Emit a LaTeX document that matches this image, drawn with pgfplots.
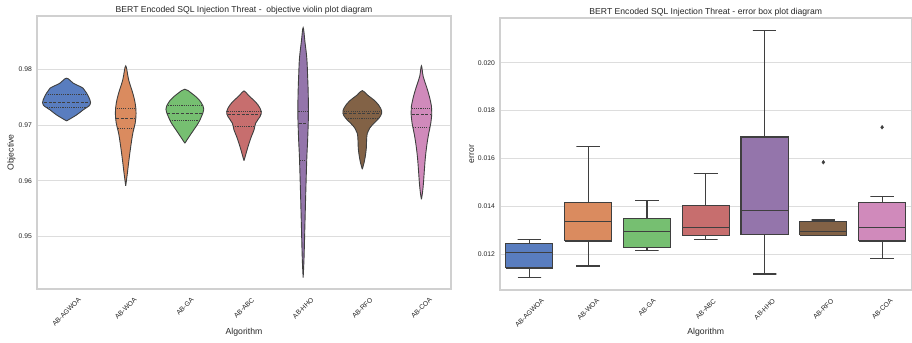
\documentclass[border=0pt]{standalone}
\usepackage{fontspec}
\setmainfont{Liberation Sans}
\usepackage{graphicx}
\usepackage{pgfplots}
\pgfplotsset{compat=1.18}
\definecolor{cA}{RGB}{89,125,191}
\definecolor{cB}{RGB}{218,139,95}
\definecolor{cC}{RGB}{118,191,113}
\definecolor{cD}{RGB}{199,110,110}
\definecolor{cE}{RGB}{148,117,171}
\definecolor{cF}{RGB}{130,98,70}
\definecolor{cG}{RGB}{208,138,187}
\definecolor{edge}{RGB}{63,63,63}
\definecolor{gridc}{RGB}{221,221,221}
\definecolor{framec}{RGB}{208,208,208}
\definecolor{txt}{RGB}{38,38,38}
\pgfplotsset{
 common/.style={
  scale only axis,
  anchor=south west,
  axis line style={framec, line width=1.1bp},
  ymajorgrids, major grid style={gridc, line width=0.9bp},
  major tick length=0pt,
  tick label style={font=\fontsize{6.8}{7}\selectfont, text=txt},
  /pgf/number format/assume math mode=true,
  scaled y ticks=false,
  xmin=-0.5, xmax=6.5, xtick={0,...,6},
  xticklabels={\rotatebox{45}{AB-AGWOA},\rotatebox{45}{AB-WOA},\rotatebox{45}{AB-GA},\rotatebox{45}{AB-ABC},\rotatebox{45}{AB-HHO},\rotatebox{45}{AB-RFO},\rotatebox{45}{AB-COA}},
  xticklabel style={anchor=north, inner sep=0pt, yshift=-8bp},
  yticklabel style={anchor=east, inner sep=0pt, xshift=-5bp},
  label style={font=\fontsize{8.7}{10}\selectfont, text=txt},
  every axis title shift=0pt,
  title style={font=\fontsize{8.65}{10}\selectfont, text=txt, at={(0.5,1)}, anchor=base, yshift=3.4bp},
 },
 vio/.style={smooth, tension=0.6, draw=edge, line width=0.9bp, fill=#1},
 med/.style={draw=edge, line width=0.8bp, dash pattern=on 3bp off 1.6bp},
 qrt/.style={draw=edge, line width=0.8bp, dash pattern=on 1.1bp off 1.1bp},
 bx/.style={draw=edge, line width=1.1bp, fill=#1, mark=none},
 wh/.style={draw=edge, line width=1.1bp, mark=none},
}
\begin{document}
\begin{tikzpicture}
\useasboundingbox (0,0) rectangle (912bp,343bp);
% ---------------- violin plot ----------------
\begin{axis}[common, at={(37bp,54bp)}, width=414bp, height=273bp,
  ymin=0.9406, ymax=0.9896, ytick={0.95,0.96,0.97,0.98},
  yticklabel style={/pgf/number format/.cd, fixed, fixed zerofill, precision=2},
  title={BERT Encoded SQL Injection Threat - \ objective violin plot diagram},
  xlabel={Algorithm}, ylabel={Objective},
  xlabel style={at={(axis description cs:0.5,-0.1575)}, anchor=center},
  ylabel style={at={(axis description cs:-0.062,0.5)}, anchor=center},
]
\addplot[vio=cA] coordinates {(0,0.97077) (0.17,0.97185) (0.28,0.97275) (0.395,0.97364) (0.395,0.97454) (0.34,0.97574) (0.28,0.97664) (0.113,0.97754) (0,0.97844) (-0.113,0.97754) (-0.28,0.97664) (-0.34,0.97574) (-0.395,0.97454) (-0.395,0.97364) (-0.28,0.97275) (-0.17,0.97185) (0,0.97077)};
\addplot[vio=cB] coordinates {(1,0.9591) (1.028,0.96138) (1.055,0.96377) (1.085,0.96616) (1.12,0.96856) (1.16,0.97036) (1.175,0.97215) (1.16,0.97395) (1.12,0.97574) (1.05,0.97813) (1,0.98065) (0.95,0.97813) (0.88,0.97574) (0.84,0.97395) (0.825,0.97215) (0.84,0.97036) (0.88,0.96856) (0.915,0.96616) (0.945,0.96377) (0.972,0.96138) (1,0.9591)};
\addplot[vio=cC] coordinates {(2,0.96677) (2.073,0.96795) (2.15,0.96916) (2.226,0.97036) (2.28,0.97154) (2.32,0.97287) (2.282,0.97395) (2.214,0.97485) (2.113,0.97574) (2,0.97646) (1.887,0.97574) (1.786,0.97485) (1.718,0.97395) (1.68,0.97287) (1.72,0.97154) (1.774,0.97036) (1.85,0.96916) (1.927,0.96795) (2,0.96677)};
\addplot[vio=cD] coordinates {(3,0.96364) (3.028,0.96467) (3.068,0.96616) (3.124,0.96795) (3.17,0.96916) (3.197,0.97036) (3.27,0.97154) (3.293,0.97244) (3.237,0.97364) (3.158,0.97454) (3.068,0.97544) (3,0.97616) (2.932,0.97544) (2.842,0.97454) (2.763,0.97364) (2.707,0.97244) (2.73,0.97154) (2.803,0.97036) (2.83,0.96916) (2.876,0.96795) (2.932,0.96616) (2.972,0.96467) (3,0.96364)};
\addplot[vio=cE] coordinates {(4,0.94264) (4.015,0.94612) (4.03,0.9521) (4.045,0.95808) (4.062,0.96408) (4.075,0.96706) (4.085,0.97005) (4.09,0.97244) (4.085,0.97603) (4.075,0.97903) (4.062,0.98203) (4.03,0.98501) (4,0.98752) (3.97,0.98501) (3.938,0.98203) (3.925,0.97903) (3.915,0.97603) (3.91,0.97244) (3.915,0.97005) (3.925,0.96706) (3.938,0.96408) (3.955,0.95808) (3.97,0.9521) (3.985,0.94612) (4,0.94264)};
\addplot[vio=cF] coordinates {(5,0.9621) (5.028,0.96318) (5.05,0.96436) (5.068,0.96587) (5.073,0.96736) (5.085,0.96856) (5.124,0.96946) (5.197,0.97036) (5.282,0.97126) (5.327,0.97215) (5.31,0.97305) (5.226,0.97424) (5.085,0.97544) (5,0.97621) (4.915,0.97544) (4.774,0.97424) (4.69,0.97305) (4.673,0.97215) (4.718,0.97126) (4.803,0.97036) (4.876,0.96946) (4.915,0.96856) (4.927,0.96736) (4.932,0.96587) (4.95,0.96436) (4.972,0.96318) (5,0.9621)};
\addplot[vio=cG] coordinates {(6,0.95671) (6.017,0.95779) (6.034,0.95959) (6.05,0.96197) (6.068,0.96436) (6.096,0.96677) (6.124,0.96856) (6.158,0.97036) (6.175,0.97215) (6.17,0.97334) (6.135,0.97513) (6.085,0.97693) (6.03,0.97873) (6,0.98065) (5.97,0.97873) (5.915,0.97693) (5.865,0.97513) (5.83,0.97334) (5.825,0.97215) (5.842,0.97036) (5.876,0.96856) (5.904,0.96677) (5.932,0.96436) (5.95,0.96197) (5.966,0.95959) (5.983,0.95779) (6,0.95671)};
% quartile lines
\addplot[qrt] coordinates {(-0.32,0.97557) (0.32,0.97557)};
\addplot[med] coordinates {(-0.38,0.97406) (0.38,0.97406)};
\addplot[qrt] coordinates {(-0.33,0.97322) (0.33,0.97322)};
\addplot[qrt] coordinates {(0.845,0.97305) (1.155,0.97305)};
\addplot[med] coordinates {(0.835,0.97131) (1.165,0.97131)};
\addplot[qrt] coordinates {(0.865,0.96946) (1.135,0.96946)};
\addplot[qrt] coordinates {(1.72,0.97364) (2.28,0.97364)};
\addplot[med] coordinates {(1.70,0.97215) (2.30,0.97215)};
\addplot[qrt] coordinates {(1.75,0.97095) (2.25,0.97095)};
\addplot[qrt] coordinates {(2.72,0.97251) (3.28,0.97251)};
\addplot[med] coordinates {(2.725,0.97185) (3.275,0.97185)};
\addplot[qrt] coordinates {(2.815,0.96982) (3.185,0.96982)};
\addplot[qrt] coordinates {(3.92,0.97244) (4.08,0.97244)};
\addplot[med] coordinates {(3.925,0.97036) (4.075,0.97036)};
\addplot[qrt] coordinates {(3.945,0.96364) (4.055,0.96364)};
\addplot[qrt] coordinates {(4.69,0.97244) (5.31,0.97244)};
\addplot[med] coordinates {(4.69,0.97215) (5.31,0.97215)};
\addplot[qrt] coordinates {(4.725,0.97126) (5.275,0.97126)};
\addplot[qrt] coordinates {(5.835,0.97305) (6.165,0.97305)};
\addplot[med] coordinates {(5.835,0.97185) (6.165,0.97185)};
\addplot[qrt] coordinates {(5.86,0.96957) (6.14,0.96957)};
\end{axis}
% ---------------- box plot (values in units of 0.001) ----------------
\begin{axis}[common, at={(500bp,53bp)}, width=411.5bp, height=272bp,
  ymin=10.494, ymax=21.87, ytick={12,14,16,18,20},
  yticklabels={0.012,0.014,0.016,0.018,0.020},
  title={BERT Encoded SQL Injection Threat - error box plot diagram},
  title style={yshift=-0.4bp},
  xlabel={Algorithm}, ylabel={error},
  xlabel style={at={(axis description cs:0.5,-0.154)}, anchor=center},
  ylabel style={at={(axis description cs:-0.0687,0.5)}, anchor=center},
]
% whiskers with caps (lower whisker, upper whisker)
\addplot[wh] coordinates {(-0.2,11.008) (0.2,11.008) (0,11.008) (0,12.615) (-0.2,12.615) (0.2,12.615)};
\addplot[wh] coordinates {(0.8,11.498) (1.2,11.498) (1,11.498) (1,16.489) (0.8,16.489) (1.2,16.489)};
\addplot[wh] coordinates {(1.8,12.138) (2.2,12.138) (2,12.138) (2,14.23) (1.8,14.23) (2.2,14.23)};
\addplot[wh] coordinates {(2.8,12.615) (3.2,12.615) (3,12.615) (3,15.36) (2.8,15.36) (3.2,15.36)};
\addplot[wh] coordinates {(3.8,11.163) (4.2,11.163) (4,11.163) (4,21.343) (3.8,21.343) (4.2,21.343)};
\addplot[wh] coordinates {(4.8,12.782) (5.2,12.782) (5,12.782) (5,13.423) (4.8,13.423) (5.2,13.423)};
\addplot[wh] coordinates {(5.8,11.82) (6.2,11.82) (6,11.82) (6,14.398) (5.8,14.398) (6.2,14.398)};
% boxes (lower quartile to upper quartile)
\addplot[bx=cA] coordinates {(-0.4,11.414) (0.4,11.414) (0.4,12.448) (-0.4,12.448) (-0.4,11.414)};
\addplot[bx=cB] coordinates {(0.6,12.544) (1.4,12.544) (1.4,14.146) (0.6,14.146) (0.6,12.544)};
\addplot[bx=cC] coordinates {(1.6,12.264) (2.4,12.264) (2.4,13.494) (1.6,13.494) (1.6,12.264)};
\addplot[bx=cD] coordinates {(2.6,12.782) (3.4,12.782) (3.4,14.02) (2.6,14.02) (2.6,12.782)};
\addplot[bx=cE] coordinates {(3.6,12.808) (4.4,12.808) (4.4,16.895) (3.6,16.895) (3.6,12.808)};
\addplot[bx=cF] coordinates {(4.6,12.782) (5.4,12.782) (5.4,13.351) (4.6,13.351) (4.6,12.782)};
\addplot[bx=cG] coordinates {(5.6,12.544) (6.4,12.544) (6.4,14.146) (5.6,14.146) (5.6,12.544)};
% medians
\addplot[wh] coordinates {(-0.4,12.054) (0.4,12.054)};
\addplot[wh] coordinates {(0.6,13.351) (1.4,13.351)};
\addplot[wh] coordinates {(1.6,12.95) (2.4,12.95)};
\addplot[wh] coordinates {(2.6,13.1) (3.4,13.1)};
\addplot[wh] coordinates {(3.6,13.828) (4.4,13.828)};
\addplot[wh] coordinates {(4.6,12.95) (5.4,12.95)};
\addplot[wh] coordinates {(5.6,13.1) (6.4,13.1)};
% outliers
\addplot[only marks, mark=diamond*, mark size=1.9bp, draw=edge, fill=edge] coordinates {(5,15.837) (6,17.3)};
\end{axis}
\end{tikzpicture}
\end{document}
